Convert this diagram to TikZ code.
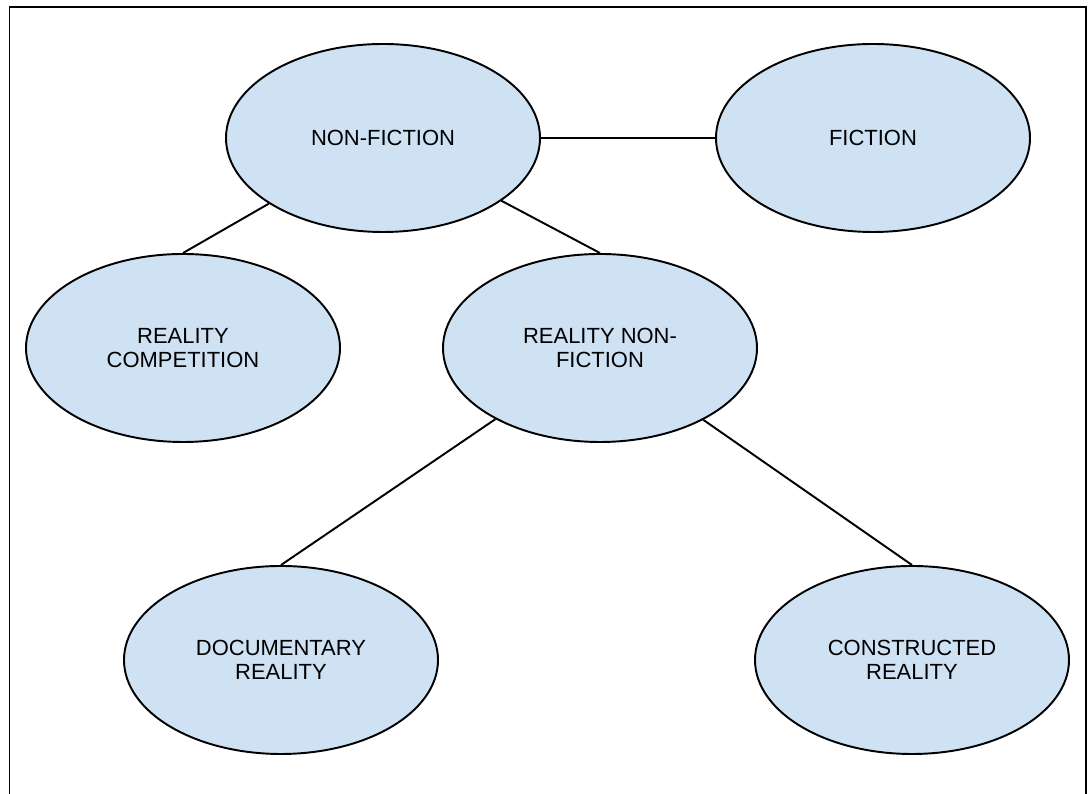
\documentclass[tikz,border=0pt]{standalone}
\usepackage{fontspec}
\setmainfont{Liberation Sans}
\usetikzlibrary{shapes.geometric}

\definecolor{genre_blue}{HTML}{CFE2F3}

\begin{document}
\begin{tikzpicture}[
    genre_style/.style={ellipse, draw, line width=1.1pt, fill=genre_blue, inner sep=0pt,
        minimum width=6.28cm, minimum height=3.76cm, align=center,
        font=\fontsize{12.5}{14}\selectfont},
    link_style/.style={line width=1.1pt},
    frame_style/.style={line width=1.1pt}
]
\useasboundingbox (0,0) rectangle (21.78,15.88);

% Outer frame (open at the bottom)
\draw[frame_style] (0.19,-0.2) -- (0.19,15.74) -- (21.72,15.74) -- (21.72,-0.2);

% TOP ROW
\node[genre_style] (nonfic) at (7.66,13.12) {NON-FICTION};
\node[genre_style] (fic) at (17.46,13.12) {FICTION};

% MIDDLE ROW
\node[genre_style] (compet) at (3.66,8.92) {REALITY\\COMPETITION};
\node[genre_style] (realnf) at (12.00,8.92) {REALITY NON-\\FICTION};

% BOTTOM ROW
\node[genre_style] (docu) at (5.62,2.68) {DOCUMENTARY\\REALITY};
\node[genre_style] (constr) at (18.24,2.68) {CONSTRUCTED\\REALITY};

% Links
\draw[link_style] (nonfic) -- (fic);
\draw[link_style] (nonfic) -- (compet.north);
\draw[link_style] (nonfic) -- (realnf.north);
\draw[link_style] (realnf) -- (docu.north);
\draw[link_style] (realnf) -- (constr.north);

\end{tikzpicture}
\end{document}
